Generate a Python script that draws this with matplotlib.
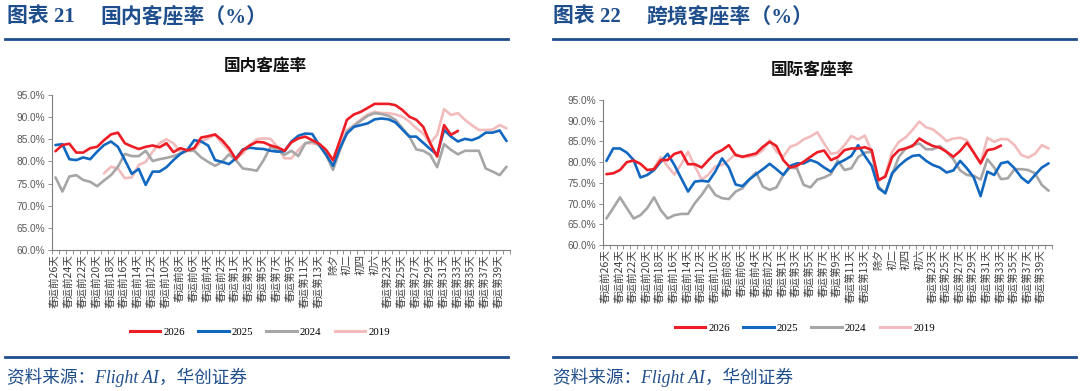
import numpy as np
import matplotlib
matplotlib.use("Agg")
import matplotlib.pyplot as plt
from matplotlib.lines import Line2D
from matplotlib.ticker import PercentFormatter, FixedLocator

nan = np.nan

# --- categories: 春运前26天 ... 春运第40天 ---
categories = (
    [f"春运前{d}天" for d in range(26, 0, -1)]
    + [f"春运第{d}天" for d in range(1, 15)]
    + ["除夕", "初一", "初二", "初三", "初四", "初五", "初六"]
    + [f"春运第{d}天" for d in range(22, 41)]
)
label_step = 2
years = ["2026", "2025", "2024", "2019"]

# --- 国内客座率 (%) ---
dom_2026 = [82.3, 83.7, 84.0, 82.0, 82.0, 83.0, 83.3, 84.8, 86.1, 86.5,
            84.1, 83.4, 82.8, 83.3, 83.6, 83.2, 84.1, 82.1, 83.0, 82.5,
            83.0, 85.4, 85.7, 86.1, 84.8, 83.0, 80.5, 82.5, 83.6, 84.4,
            84.3, 83.6, 83.2, 82.4, 84.3, 85.2, 85.6, 84.8, 84.0, 82.6,
            80.3, 84.8, 89.4, 90.6, 91.2, 92.1, 93.0, 93.0, 93.0, 92.7,
            91.6, 90.1, 89.4, 87.8, 84.1, 81.1, 88.2, 86.0, 86.9]
dom_2025 = [83.7, 83.9, 80.5, 80.3, 80.9, 80.5, 82.2, 83.7, 84.5, 83.3,
            80.3, 77.2, 78.3, 74.7, 77.7, 77.7, 78.7, 80.3, 81.7, 82.6,
            84.8, 84.5, 83.6, 80.3, 79.9, 79.4, 80.7, 82.7, 83.1, 82.9,
            82.8, 82.4, 82.2, 82.3, 84.5, 85.8, 86.3, 86.2, 83.7, 81.5,
            79.0, 83.0, 86.3, 87.8, 88.2, 88.6, 89.5, 89.7, 89.5, 88.8,
            87.2, 85.6, 85.6, 84.2, 82.8, 81.5, 87.1, 85.6, 84.5, 85.1,
            84.8, 85.4, 86.5, 86.5, 87.0, 84.6]
dom_2024 = [76.4, 73.2, 76.6, 76.9, 75.8, 75.4, 74.4, 75.7, 76.9, 78.8,
            81.7, 81.2, 81.2, 82.4, 80.1, 80.5, 80.8, 81.2, 81.8, 82.4,
            82.4, 80.9, 79.9, 79.0, 79.9, 81.6, 80.3, 78.4, 78.2, 77.9,
            80.3, 83.3, 82.6, 81.5, 82.4, 81.2, 84.1, 84.5, 83.7, 81.5,
            78.1, 82.6, 86.7, 88.0, 89.2, 90.3, 90.9, 90.7, 90.3, 89.4,
            87.5, 85.6, 82.7, 82.4, 81.5, 78.7, 83.9, 82.6, 81.6, 82.4,
            82.4, 82.4, 78.4, 77.7, 76.9, 78.8]
dom_2019 = [nan, nan, nan, nan, nan, nan, nan, 77.3, 78.8, 78.4,
            76.2, 76.4, 79.2, 79.9, 82.2, 84.1, 85.0, 84.1, 82.2, 82.6,
            82.7, 84.5, 85.2, 86.0, 84.1, 82.4, 80.7, 81.8, 83.7, 85.0,
            85.2, 85.1, 83.3, 80.7, 80.7, 82.6, 84.1, 84.1, 83.7, 82.2,
            79.6, 83.3, 87.1, 88.2, 89.5, 90.6, 91.2, 90.9, 90.9, 90.6,
            90.1, 89.0, 87.5, 86.3, 84.1, 86.0, 91.8, 90.5, 90.9, 89.4,
            88.2, 87.1, 87.1, 87.2, 88.2, 87.5]

# --- 国际客座率 (%) ---
intl_2026 = [77.1, 77.3, 78.1, 80.0, 80.4, 79.6, 78.1, 78.3, 80.5, 80.5,
             82.0, 82.5, 79.5, 79.5, 78.7, 80.5, 82.1, 82.9, 84.1, 81.7,
             81.3, 81.7, 82.1, 83.7, 84.9, 83.9, 80.5, 78.7, 79.1, 80.1,
             81.3, 82.4, 82.8, 80.5, 81.2, 82.9, 83.3, 83.3, 83.6, 82.9,
             75.7, 76.5, 81.2, 82.9, 83.3, 83.9, 85.7, 84.7, 83.9, 83.5,
             82.5, 81.3, 82.7, 84.7, 82.3, 79.7, 82.9, 83.2, 84.0]
intl_2025 = [80.3, 83.3, 83.3, 82.3, 80.5, 76.3, 76.9, 78.1, 80.1, 82.0,
             79.3, 76.1, 72.9, 75.3, 75.5, 75.3, 77.7, 80.9, 78.7, 74.6,
             74.2, 75.8, 77.1, 78.3, 79.6, 78.3, 76.9, 79.1, 79.7, 79.7,
             80.5, 79.9, 78.7, 77.7, 79.7, 80.5, 81.5, 84.1, 81.5, 79.1,
             73.7, 72.5, 77.3, 79.1, 80.5, 81.5, 81.7, 80.3, 79.3, 78.7,
             77.5, 78.0, 80.3, 78.5, 76.3, 71.8, 77.7, 76.9, 79.7, 80.1,
             78.5, 76.3, 75.0, 76.9, 78.7, 79.7]
intl_2024 = [66.4, 68.9, 71.5, 68.9, 66.4, 67.2, 68.9, 71.5, 68.4, 66.4,
             67.2, 67.5, 67.5, 70.1, 72.1, 74.5, 72.1, 71.3, 71.1, 72.9,
             73.7, 75.8, 77.5, 74.1, 73.3, 73.9, 76.9, 78.7, 78.5, 74.5,
             73.9, 75.8, 76.3, 77.1, 80.4, 78.1, 78.5, 81.2, 82.3, 82.5,
             74.1, 72.5, 77.1, 81.3, 83.3, 84.1, 84.5, 83.1, 83.1, 83.9,
             82.5, 80.7, 78.0, 76.9, 76.7, 75.8, 80.7, 78.7, 75.9, 76.1,
             78.3, 78.3, 78.1, 77.3, 74.5, 73.1]
intl_2019 = [nan, nan, nan, nan, nan, nan, nan, 78.6, 81.2, 79.0,
             77.0, 79.5, 82.5, 79.0, 75.8, 77.0, 79.0, 79.3, 80.5, 82.0,
             81.2, 81.3, 81.7, 82.9, 85.3, 82.5, 81.3, 83.7, 84.3, 85.5,
             86.2, 87.2, 84.5, 82.0, 82.3, 84.1, 86.3, 85.5, 86.4, 82.5,
             75.3, 76.9, 82.5, 84.9, 86.0, 87.8, 89.8, 88.4, 87.9, 86.6,
             85.1, 85.7, 85.9, 85.3, 82.3, 79.7, 85.9, 84.9, 85.6, 85.5,
             84.1, 81.7, 81.1, 82.0, 84.1, 83.3]

colors = {"2026": "#EE1C25", "2025": "#1268C0", "2024": "#A6A6A6", "2019": "#F2BCBC"}
NAVY = "#1F4E8C"
CJK = ["Noto Sans CJK SC", "DejaVu Sans"]
SERIF_CJK = ["Liberation Serif", "Noto Sans CJK SC"]

plt.rcParams["font.family"] = CJK
plt.rcParams["axes.unicode_minus"] = False

W, H = 1080, 391
fig = plt.figure(figsize=(W / 100, H / 100), dpi=100)


def fx(px):
    return px / W


def fy(py):
    return 1 - py / H


def draw_panel(ax, series, title, title_xy):
    x = np.arange(len(categories))
    # draw 2019 first so that 2026 sits on top
    for year in ["2019", "2024", "2025", "2026"]:
        vals = series[year]
        ax.plot(x[:len(vals)], vals, color=colors[year], lw=1.9,
                solid_joinstyle="round", solid_capstyle="round")
    ax.set_xlim(-0.5, len(categories) - 0.5)
    ax.set_ylim(60, 95)
    ax.yaxis.set_major_locator(FixedLocator(np.arange(60, 96, 5)))
    ax.yaxis.set_major_formatter(PercentFormatter(xmax=100, decimals=1))
    ticks = x[::label_step]
    ax.set_xticks(ticks)
    ax.set_xticklabels([categories[i] for i in ticks], rotation=90,
                       fontsize=7.6, color="#404040", family=CJK)
    ax.set_xticks(np.arange(-0.5, len(categories)), minor=True)
    ax.tick_params(axis="x", which="major", length=0, pad=3)
    ax.tick_params(axis="x", which="minor", length=3, width=0.6,
                   color="#7F7F7F")
    ax.tick_params(axis="y", length=3, width=0.6, color="#7F7F7F",
                   labelsize=7.3, labelcolor="#595959", pad=2)
    for lbl in ax.get_yticklabels():
        lbl.set_family(["Liberation Sans", "DejaVu Sans"])
    for side in ["top", "right"]:
        ax.spines[side].set_visible(False)
    for side in ["left", "bottom"]:
        ax.spines[side].set_color("#7F7F7F")
        ax.spines[side].set_linewidth(0.8)
    fig.text(fx(title_xy[0]), fy(title_xy[1]), title, ha="center",
             va="center", fontsize=12, fontweight="bold", color="#111111",
             family=CJK)


ax1 = fig.add_axes([fx(52), fy(250), 458 / W, 155 / H])
draw_panel(ax1, {"2026": dom_2026, "2025": dom_2025, "2024": dom_2024,
                 "2019": dom_2019}, "国内客座率", (265, 66))

ax2 = fig.add_axes([fx(603), fy(245), 449 / W, 145 / H])
draw_panel(ax2, {"2026": intl_2026, "2025": intl_2025, "2024": intl_2024,
                 "2019": intl_2019}, "国际客座率", (812, 70))

# legends
handles = [Line2D([0], [0], color=colors[y], lw=2.2) for y in years]
for cx, cy in [(260, 332), (805, 328)]:
    fig.legend(handles, years, loc="center", bbox_to_anchor=(fx(cx), fy(cy)),
               ncol=4, frameon=False, handlelength=2.8, handletextpad=0.3,
               columnspacing=1.2,
               prop={"family": ["Liberation Serif"], "size": 7.8})

# header bars, rules and source lines
headers = [(7, "图表 21", "国内客座率（%）", 5, 508),
           (553, "图表 22", "跨境客座率（%）", 553, 1076)]
for tx, num, text, x0, x1 in headers:
    fig.text(fx(tx), fy(17), num, ha="left", va="center", fontsize=15,
             fontweight="bold", color=NAVY, family=SERIF_CJK)
    fig.text(fx(tx + 93), fy(17), text, ha="left", va="center", fontsize=15,
             fontweight="bold", color=NAVY, family=SERIF_CJK)
    fig.add_artist(Line2D([fx(x0), fx(x1)], [fy(39), fy(39)], color=NAVY,
                          lw=2))
    fig.add_artist(Line2D([fx(x0), fx(x1)], [fy(357), fy(357)], color=NAVY,
                          lw=2))
    fig.text(fx(tx), fy(377), "资料来源：Flight AI，华创证券", ha="left",
             va="center", fontsize=12.7, style="italic", color=NAVY,
             family=SERIF_CJK)

fig.savefig("out.png", dpi=100)
